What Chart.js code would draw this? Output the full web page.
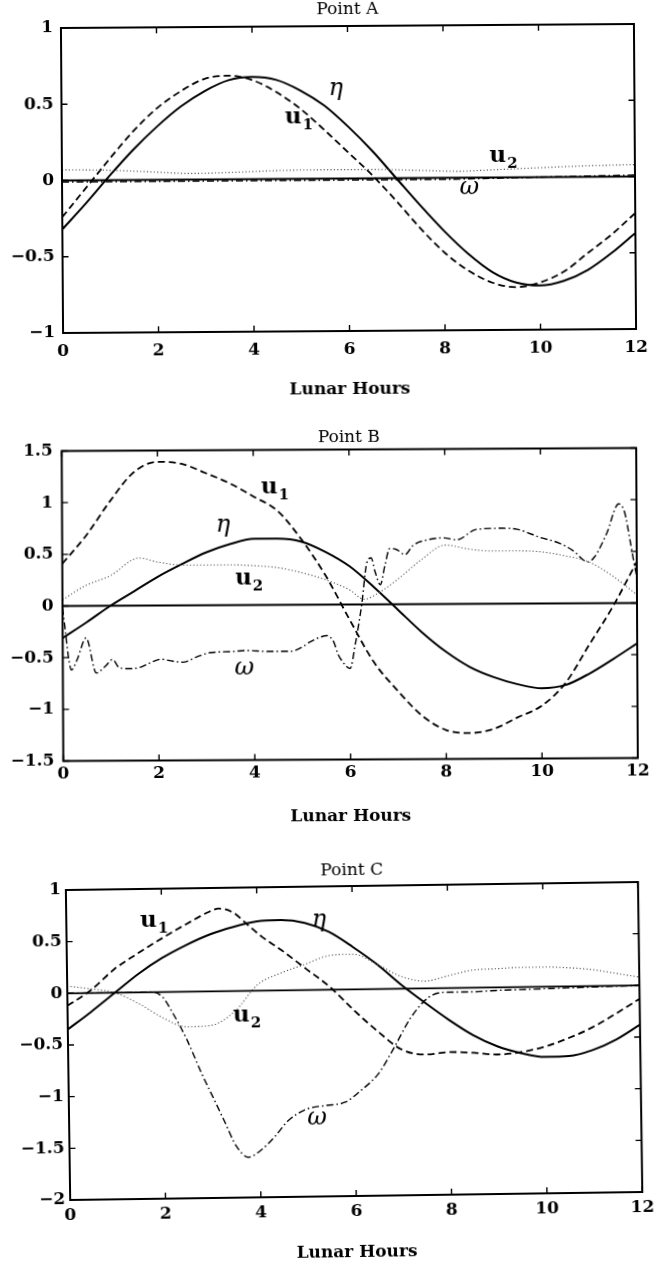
<!DOCTYPE html>
<html>
<head>
<meta charset="utf-8">
<script src="https://cdn.jsdelivr.net/npm/chart.js@4.4.1/dist/chart.umd.min.js"></script>
<style>
  html, body { margin: 0; padding: 0; background: #fff; }
  body { width: 657px; height: 1266px; position: relative; overflow: hidden; }
  .panel { position: absolute; left: 0; width: 657px; }
</style>
</head>
<body>
<div class="panel" id="panelA"><canvas id="chartA"></canvas></div>
<div class="panel" id="panelB"><canvas id="chartB"></canvas></div>
<div class="panel" id="panelC"><canvas id="chartC"></canvas></div>
<script>
// ---- data (lunar hours on x) ----
const hourTicks = [0, 2, 4, 6, 8, 10, 12];
const hourLabels = ["0", "2", "4", "6", "8", "10", "12"];
const halfHours = [0, 0.5, 1, 1.5, 2, 2.5, 3, 3.5, 4, 4.5, 5, 5.5, 6, 6.5, 7, 7.5, 8, 8.5, 9, 9.5, 10, 10.5, 11, 11.5, 12];
const zeroHours = [0, 12];
const zeroLine = [0, 0];

// Point A
const yTicksA = [-1, -0.5, 0, 0.5, 1];
const yLabelsA = ["\u22121", "\u22120.5", "0", "0.5", "1"];
const etaA = [-0.32, -0.15, 0.03, 0.2, 0.35, 0.48, 0.58, 0.65, 0.67, 0.65, 0.58, 0.48, 0.34, 0.18, 0.0, -0.18, -0.35, -0.5, -0.62, -0.69, -0.71, -0.68, -0.61, -0.5, -0.37];
const u1A = [-0.24, -0.05, 0.14, 0.32, 0.47, 0.58, 0.66, 0.68, 0.65, 0.57, 0.46, 0.32, 0.17, 0.02, -0.15, -0.33, -0.49, -0.61, -0.69, -0.72, -0.69, -0.62, -0.5, -0.38, -0.24];
const u2HoursA = [0, 1, 2, 2.7, 3.5, 4.5, 5.5, 6.5, 7.5, 8.3, 9, 10, 11, 12];
const u2A = [0.07, 0.065, 0.05, 0.04, 0.045, 0.055, 0.058, 0.058, 0.05, 0.042, 0.05, 0.062, 0.072, 0.078];
const omegaHoursA = [0, 2, 4, 6, 8, 9, 10, 11, 12];
const omegaA = [-0.01, -0.01, -0.01, -0.01, -0.01, -0.005, 0.0, 0.005, 0.01];

// Point B
const yTicksB = [-1.5, -1, -0.5, 0, 0.5, 1, 1.5];
const yLabelsB = ["\u22121.5", "\u22121", "\u22120.5", "0", "0.5", "1", "1.5"];
const etaB = [-0.31, -0.16, 0.0, 0.14, 0.28, 0.4, 0.51, 0.59, 0.64, 0.64, 0.61, 0.51, 0.37, 0.17, -0.05, -0.27, -0.46, -0.61, -0.71, -0.78, -0.82, -0.79, -0.68, -0.54, -0.39];
const u1B = [0.41, 0.68, 1.01, 1.29, 1.39, 1.37, 1.28, 1.18, 1.05, 0.91, 0.63, 0.28, -0.15, -0.56, -0.84, -1.08, -1.22, -1.25, -1.21, -1.1, -0.99, -0.77, -0.4, -0.03, 0.4];
const u2HoursB = [0, 0.5, 1, 1.6, 2, 2.5, 3, 3.5, 4, 4.5, 5, 5.5, 6, 6.3, 6.6, 7, 7.5, 8, 8.5, 9, 9.5, 10, 10.5, 11, 11.5, 12];
const u2B = [0.06, 0.2, 0.29, 0.46, 0.42, 0.39, 0.39, 0.39, 0.38, 0.36, 0.31, 0.24, 0.14, 0.05, 0.11, 0.24, 0.43, 0.57, 0.53, 0.51, 0.51, 0.5, 0.46, 0.4, 0.26, 0.08];
const omegaHoursB = [0, 0.06, 0.12, 0.18, 0.3, 0.49, 0.7, 0.9, 1.04, 1.18, 1.4, 1.6, 1.8, 2.05, 2.3, 2.5, 2.8, 3.06, 3.5, 3.83, 4.3, 4.76, 5.0, 5.17, 5.35, 5.52, 5.66, 5.75, 5.84, 6.0, 6.11, 6.25, 6.36, 6.45, 6.53, 6.64, 6.74, 6.84, 6.98, 7.16, 7.33, 7.61, 7.96, 8.24, 8.65, 9.2, 9.5, 9.98, 10.4, 10.67, 10.98, 11.12, 11.37, 11.63, 11.75, 11.86, 11.93, 12];
const omegaB = [-0.02, -0.25, -0.5, -0.62, -0.52, -0.31, -0.65, -0.58, -0.52, -0.6, -0.61, -0.6, -0.56, -0.52, -0.54, -0.55, -0.5, -0.46, -0.45, -0.44, -0.45, -0.45, -0.41, -0.36, -0.32, -0.3, -0.36, -0.48, -0.55, -0.62, -0.39, 0.0, 0.4, 0.45, 0.32, 0.19, 0.38, 0.54, 0.53, 0.48, 0.57, 0.62, 0.64, 0.62, 0.72, 0.73, 0.72, 0.64, 0.58, 0.51, 0.4, 0.45, 0.67, 0.96, 0.88, 0.61, 0.42, 0.25];

// Point C
const yTicksC = [-2, -1.5, -1, -0.5, 0, 0.5, 1];
const yLabelsC = ["\u22122", "\u22121.5", "\u22121", "\u22120.5", "0", "0.5", "1"];
const etaC = [-0.35, -0.18, 0.0, 0.18, 0.33, 0.45, 0.55, 0.62, 0.67, 0.68, 0.65, 0.56, 0.41, 0.24, 0.04, -0.14, -0.31, -0.46, -0.57, -0.64, -0.68, -0.675, -0.62, -0.52, -0.38];
const u1HoursC = [0, 0.5, 1, 1.5, 2, 2.5, 3, 3.2, 3.5, 3.8, 4.1, 4.5, 5, 5.5, 6, 6.5, 7, 7.5, 8, 8.5, 9, 9.5, 10, 10.5, 11, 11.5, 12];
const u1C = [-0.12, 0.03, 0.23, 0.38, 0.52, 0.65, 0.77, 0.8, 0.76, 0.64, 0.52, 0.39, 0.21, 0.03, -0.2, -0.41, -0.59, -0.64, -0.62, -0.63, -0.65, -0.63, -0.58, -0.5, -0.4, -0.27, -0.13];
const u2C = [0.07, 0.04, 0.0, -0.11, -0.25, -0.34, -0.33, -0.2, 0.06, 0.17, 0.25, 0.33, 0.34, 0.24, 0.12, 0.07, 0.12, 0.17, 0.18, 0.19, 0.19, 0.18, 0.16, 0.12, 0.08];
const omegaHoursC = [0, 0.5, 1, 1.5, 1.8, 2, 2.2, 2.5, 2.8, 3, 3.25, 3.5, 3.75, 4, 4.3, 4.6, 5, 5.4, 5.8, 6.1, 6.5, 6.8, 7.2, 7.6, 8, 8.5, 9, 10, 11, 12];
const omegaC = [0, 0, 0, 0, 0, -0.05, -0.2, -0.47, -0.8, -1.0, -1.25, -1.5, -1.61, -1.55, -1.42, -1.26, -1.15, -1.12, -1.09, -0.99, -0.82, -0.6, -0.28, -0.08, -0.04, -0.04, -0.03, -0.02, -0.01, 0];

// curve labels (data coordinates)
const labelsA = [
  { text: "\u03b7", x: 5.75, y: 0.59 },
  { text: "u", sub: "1", x: 4.97, y: 0.39 },
  { text: "u", sub: "2", x: 9.25, y: 0.13 },
  { text: "\u03c9", x: 8.53, y: -0.07 },
];
const labelsB = [
  { text: "u", sub: "1", x: 4.45, y: 1.12 },
  { text: "\u03b7", x: 3.36, y: 0.77 },
  { text: "u", sub: "2", x: 3.9, y: 0.24 },
  { text: "\u03c9", x: 3.79, y: -0.61 },
];
const labelsC = [
  { text: "u", sub: "1", x: 1.84, y: 0.67 },
  { text: "\u03b7", x: 5.3, y: 0.67 },
  { text: "u", sub: "2", x: 3.76, y: -0.26 },
  { text: "\u03c9", x: 5.2, y: -1.24 },
];

const SERIF = '"DejaVu Serif", serif';

// frame, inward ticks, titles and curve labels
const paperFrame = {
  id: "paperFrame",
  afterDatasetsDraw(chart, args, opts) {
    const { ctx, chartArea: a } = chart;
    const x = chart.scales.x;
    const y = chart.scales.y;
    ctx.save();
    ctx.strokeStyle = "#000";
    ctx.lineWidth = 2;
    ctx.strokeRect(a.left, a.top, a.width, a.height);
    ctx.lineWidth = 1.4;
    ctx.beginPath();
    for (const t of x.ticks) {
      const px = x.getPixelForValue(t.value);
      ctx.moveTo(px, a.bottom);
      ctx.lineTo(px, a.bottom - 6);
      ctx.moveTo(px, a.top);
      ctx.lineTo(px, a.top + 6);
    }
    for (const t of y.ticks) {
      const py = y.getPixelForValue(t.value);
      ctx.moveTo(a.left, py);
      ctx.lineTo(a.left + 6, py);
      ctx.moveTo(a.right, py);
      ctx.lineTo(a.right - 6, py);
    }
    ctx.stroke();

    ctx.fillStyle = "#000";
    ctx.textAlign = "center";
    ctx.textBaseline = "middle";
    ctx.font = "17px " + SERIF;
    ctx.fillText(opts.title, (a.left + a.right) / 2, a.top - opts.titleGap);
    ctx.font = "bold 17px " + SERIF;
    ctx.fillText("Lunar Hours", (a.left + a.right) / 2, a.bottom + opts.xTitleGap);

    for (const l of opts.labels) {
      const px = x.getPixelForValue(l.x);
      const py = y.getPixelForValue(l.y);
      if (l.sub) {
        ctx.font = "bold 23px " + SERIF;
        const w1 = ctx.measureText(l.text).width;
        ctx.font = "bold 15px " + SERIF;
        const w2 = ctx.measureText(l.sub).width;
        const left = px - (w1 + w2 + 1) / 2;
        ctx.textAlign = "left";
        ctx.font = "bold 23px " + SERIF;
        ctx.fillText(l.text, left, py - 2);
        ctx.font = "bold 15px " + SERIF;
        ctx.fillText(l.sub, left + w1 + 1, py + 6);
      } else {
        ctx.textAlign = "center";
        ctx.font = "italic 24px " + SERIF;
        ctx.fillText(l.text, px, py);
      }
    }
    ctx.restore();
  },
};

function series(hours, values, style) {
  return Object.assign(
    {
      data: hours.map((h, i) => ({ x: h, y: values[i] })),
      pointRadius: 0,
      fill: false,
      borderColor: "#000",
      cubicInterpolationMode: "monotone",
    },
    style,
  );
}

const solidZero = { borderWidth: 1.8 };
const etaStyle = { borderWidth: 2 };
const u1Style = { borderWidth: 1.8, borderDash: [7, 4] };
const u2Style = { borderWidth: 1.1, borderColor: "#555", borderDash: [1.2, 2.2] };
const omegaStyle = { borderWidth: 1.4, borderDash: [7, 3, 1.5, 3] };

function makePanel(p) {
  const div = document.getElementById(p.divId);
  div.style.top = p.top + "px";
  div.style.height = p.height + "px";
  const cx = (p.plotLeft + p.plotRight) / 2;
  const cy = (p.plotTop + p.plotBottom) / 2 - p.top;
  div.style.transformOrigin = cx + "px " + cy + "px";
  div.style.transform = "rotate(" + p.angle + "deg)";

  const yAxisWidth = 58;
  const xAxisHeight = 30;

  return new Chart(document.getElementById(p.canvasId), {
    type: "line",
    data: { datasets: p.datasets },
    plugins: [paperFrame],
    options: {
      responsive: true,
      maintainAspectRatio: false,
      animation: false,
      events: [],
      layout: {
        padding: {
          left: p.plotLeft - yAxisWidth,
          right: 657 - p.plotRight,
          top: p.plotTop - p.top,
          bottom: p.top + p.height - p.plotBottom - xAxisHeight,
        },
      },
      plugins: {
        legend: { display: false },
        tooltip: { enabled: false },
        paperFrame: {
          title: p.title,
          titleGap: p.titleGap,
          xTitleGap: p.xTitleGap,
          labels: p.labels,
        },
      },
      scales: {
        x: {
          type: "linear",
          min: 0,
          max: 12,
          grid: { display: false, drawTicks: false },
          border: { display: false },
          afterBuildTicks: (s) => {
            s.ticks = hourTicks.map((v) => ({ value: v }));
          },
          afterFit: (s) => {
            s.height = xAxisHeight;
          },
          ticks: {
            autoSkip: false,
            maxRotation: 0,
            padding: p.xTickPad,
            color: "#000",
            font: { family: SERIF, size: 17, weight: "bold" },
            callback: (v, i) => hourLabels[i],
          },
        },
        y: {
          type: "linear",
          min: p.yTicks[0],
          max: p.yTicks[p.yTicks.length - 1],
          grid: { display: false, drawTicks: false },
          border: { display: false },
          afterBuildTicks: (s) => {
            s.ticks = p.yTicks.map((v) => ({ value: v }));
          },
          afterFit: (s) => {
            s.width = yAxisWidth;
          },
          ticks: {
            autoSkip: false,
            padding: p.yTickPad,
            color: "#000",
            font: { family: SERIF, size: 17, weight: "bold" },
            callback: (v, i) => p.yLabels[i],
          },
        },
      },
    },
  });
}

makePanel({
  divId: "panelA", canvasId: "chartA",
  top: 0, height: 400,
  plotLeft: 62, plotRight: 635, plotTop: 26, plotBottom: 331, angle: -0.4,
  title: "Point A", titleGap: 16, xTitleGap: 59, xTickPad: 8, yTickPad: 8,
  yTicks: yTicksA, yLabels: yLabelsA, labels: labelsA,
  datasets: [
    series(zeroHours, zeroLine, solidZero),
    series(u2HoursA, u2A, u2Style),
    series(omegaHoursA, omegaA, omegaStyle),
    series(halfHours, u1A, u1Style),
    series(halfHours, etaA, etaStyle),
  ],
});

makePanel({
  divId: "panelB", canvasId: "chartB",
  top: 420, height: 420,
  plotLeft: 62.5, plotRight: 637, plotTop: 449.5, plotBottom: 759.5, angle: -0.3,
  title: "Point B", titleGap: 12, xTitleGap: 57, xTickPad: 3, yTickPad: 9,
  yTicks: yTicksB, yLabels: yLabelsB, labels: labelsB,
  datasets: [
    series(zeroHours, zeroLine, solidZero),
    series(u2HoursB, u2B, u2Style),
    series(omegaHoursB, omegaB, omegaStyle),
    series(halfHours, u1B, u1Style),
    series(halfHours, etaB, etaStyle),
  ],
});

makePanel({
  divId: "panelC", canvasId: "chartC",
  top: 850, height: 416,
  plotLeft: 68, plotRight: 642, plotTop: 886, plotBottom: 1196, angle: -0.8,
  title: "Point C", titleGap: 15, xTitleGap: 57, xTickPad: 5, yTickPad: 5,
  yTicks: yTicksC, yLabels: yLabelsC, labels: labelsC,
  datasets: [
    series(zeroHours, zeroLine, solidZero),
    series(halfHours, u2C, u2Style),
    series(omegaHoursC, omegaC, omegaStyle),
    series(u1HoursC, u1C, u1Style),
    series(halfHours, etaC, etaStyle),
  ],
});
</script>
</body>
</html>
